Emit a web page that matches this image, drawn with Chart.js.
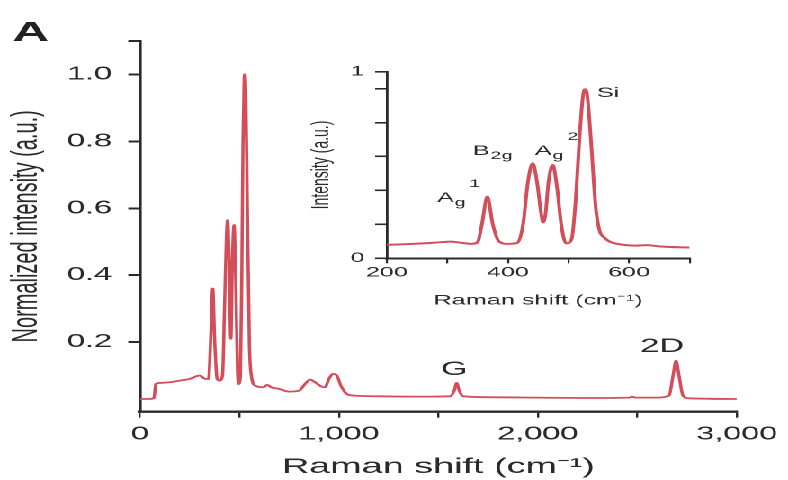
<!DOCTYPE html>
<html>
<head>
<meta charset="utf-8">
<script src="https://cdn.jsdelivr.net/npm/chart.js@4.4.1/dist/chart.umd.min.js"></script>
<style>
  html, body { margin: 0; padding: 0; background: #fff; overflow: hidden; }
  /* the source figure is stretched sideways, so the whole stage is too */
  #stage { position: absolute; left: 0; top: 0; width: 438px; height: 480px; transform: scaleX(1.7991); transform-origin: 0 0; }
  #mainBox { position: absolute; left: 0; top: 0; width: 438px; height: 480px; }
  #insetBox { position: absolute; left: 164px; top: 55px; width: 236px; height: 257px; }
</style>
</head>
<body>
<div id="stage">
  <div id="mainBox"><canvas id="mainChart"></canvas></div>
  <div id="insetBox"><canvas id="insetChart"></canvas></div>
</div>
<script>
// Full spectrum (main panel)
const mainShift = [0, 40, 70, 80, 100, 150, 200, 250, 300, 330, 345, 355, 366, 376, 388, 400, 415, 425, 435, 441, 448, 457, 465, 473, 481, 490, 496, 505, 512, 518, 524, 527, 532, 540, 550, 560, 580, 620, 640, 660, 700, 750, 800, 830, 855, 880, 910, 930, 950, 970, 990, 1010, 1040, 1080, 1200, 1400, 1560, 1580, 1592, 1605, 1625, 1800, 2000, 2300, 2460, 2475, 2490, 2600, 2660, 2680, 2695, 2710, 2730, 2760, 3000];
const mainIntensity = [0.03, 0.03, 0.032, 0.075, 0.078, 0.08, 0.085, 0.09, 0.1, 0.09, 0.09, 0.2, 0.36, 0.2, 0.09, 0.085, 0.1, 0.3, 0.52, 0.565, 0.45, 0.21, 0.45, 0.55, 0.4, 0.12, 0.075, 0.1, 0.4, 0.8, 0.99, 1.0, 0.95, 0.6, 0.2, 0.1, 0.07, 0.065, 0.072, 0.065, 0.06, 0.052, 0.055, 0.075, 0.088, 0.08, 0.068, 0.065, 0.09, 0.105, 0.1, 0.07, 0.045, 0.04, 0.038, 0.037, 0.038, 0.055, 0.078, 0.055, 0.038, 0.035, 0.034, 0.033, 0.034, 0.037, 0.034, 0.034, 0.04, 0.1, 0.145, 0.1, 0.04, 0.032, 0.03];

// Low-wavenumber zoom (inset)
const insetShift = [200, 230, 260, 290, 305, 320, 340, 350, 357, 366, 375, 385, 400, 415, 425, 433, 441, 448, 455, 458, 462, 467, 474, 481, 488, 496, 505, 512, 518, 524, 527, 531, 537, 545, 551, 560, 568, 590, 610, 630, 650, 700];
const insetIntensity = [0.079, 0.083, 0.088, 0.095, 0.098, 0.093, 0.085, 0.095, 0.2, 0.363, 0.2, 0.1, 0.085, 0.09, 0.2, 0.45, 0.56, 0.45, 0.26, 0.212, 0.26, 0.45, 0.55, 0.42, 0.2, 0.088, 0.11, 0.35, 0.7, 0.96, 0.996, 0.96, 0.7, 0.3, 0.167, 0.12, 0.098, 0.08, 0.075, 0.078, 0.07, 0.063];

// Tick positions
const mainYTicks = [0.2, 0.4, 0.6, 0.8, 1.0, 1.1];
const insetYTicks = [0, 0.2, 0.4, 0.6, 0.8, 1.0, 1.1];

const FONT = "'Liberation Sans', Arial, Helvetica, sans-serif";
const INK = '#2a2a2a';
const RED = 'rgb(212, 78, 90)';

function toPoints(xs, ys) {
    return xs.map((x, i) => ({ x: x, y: ys[i] }));
}

// peak labels for the main panel (data coords, centred)
const mainPeakLabels = [
    { text: 'G', x: 1580, y: 0.102 },
    { text: '2D', x: 2625, y: 0.171 }
];

// phonon mode labels for the inset (data coords, left / baseline)
const insetPeakLabels = [
    { text: 'A', sub: 'g', sup: '1', x: 283, y: 0.332 },
    { text: 'B', sub: '2g', x: 342, y: 0.609 },
    { text: 'A', sub: 'g', sup: '2', x: 444.5, y: 0.609 },
    { text: 'Si', x: 547, y: 0.95 }
];

const mainLabelsPlugin = {
    id: 'mainLabels',
    afterDraw(chart) {
        const ctx = chart.ctx;
        const xs = chart.scales.x, ys = chart.scales.y;
        ctx.save();
        ctx.fillStyle = INK;
        ctx.textBaseline = 'alphabetic';
        ctx.textAlign = 'center';
        ctx.font = '19px ' + FONT;
        mainPeakLabels.forEach(l => {
            ctx.fillText(l.text, xs.getPixelForValue(l.x), ys.getPixelForValue(l.y));
        });
        // panel letter
        ctx.textAlign = 'left';
        ctx.font = 'bold 28px ' + FONT;
        ctx.fillStyle = '#222';
        ctx.fillText('A', 7, 41);
        ctx.restore();
    }
};

const insetLabelsPlugin = {
    id: 'insetLabels',
    afterDraw(chart) {
        const ctx = chart.ctx;
        const xs = chart.scales.x, ys = chart.scales.y;
        ctx.save();
        ctx.fillStyle = INK;
        ctx.textBaseline = 'alphabetic';
        ctx.textAlign = 'left';
        insetPeakLabels.forEach(l => {
            let x = xs.getPixelForValue(l.x);
            const y = ys.getPixelForValue(l.y);
            ctx.font = '14px ' + FONT;
            ctx.fillText(l.text, x, y);
            x += ctx.measureText(l.text).width + 0.5;
            ctx.font = '11px ' + FONT;
            if (l.sub) {
                ctx.fillText(l.sub, x, y + 4);
                x += ctx.measureText(l.sub).width + 2;
            }
            if (l.sup) {
                ctx.fillText(l.sup, x, y - 15);
            }
        });
        ctx.restore();
    }
};

new Chart(document.getElementById('mainChart'), {
    type: 'line',
    data: {
        datasets: [{
            data: toPoints(mainShift, mainIntensity),
            borderColor: RED,
            borderWidth: 1.8,
            pointRadius: 0,
            cubicInterpolationMode: 'monotone',
            fill: false
        }]
    },
    options: {
        responsive: true,
        maintainAspectRatio: false,
        animation: false,
        devicePixelRatio: 2,
        layout: { padding: { top: 41, right: 26.7, bottom: 0, left: 0 } },
        plugins: { legend: { display: false }, tooltip: { enabled: false } },
        scales: {
            x: {
                type: 'linear',
                min: 0,
                max: 3000,
                afterFit: s => { s.height = 68.3; },
                border: { color: INK, width: 2.4 },
                grid: { drawOnChartArea: false, drawTicks: true, tickLength: 6, color: INK, lineWidth: 1.2 },
                ticks: {
                    stepSize: 500,
                    autoSkip: false,
                    maxRotation: 0,
                    padding: 6,
                    color: INK,
                    font: { family: FONT, size: 18 },
                    callback: v => (v % 1000 === 0 ? v.toLocaleString('en-US') : '')
                },
                title: {
                    display: true,
                    text: 'Raman shift (cm\u207B\u00B9)',
                    color: INK,
                    font: { family: FONT, size: 21 },
                    padding: { top: 0, bottom: 0 }
                }
            },
            y: {
                type: 'linear',
                min: -0.008,
                max: 1.1,
                afterFit: s => { s.width = 77.8; },
                afterBuildTicks: s => { s.ticks = mainYTicks.map(v => ({ value: v })); },
                border: { color: INK, width: 1.8 },
                grid: { drawOnChartArea: false, drawTicks: true, tickLength: 6.5, color: INK, lineWidth: 2 },
                ticks: {
                    padding: 9,
                    color: INK,
                    font: { family: FONT, size: 18 },
                    callback: v => (v > 1.05 ? '' : v.toFixed(1))
                },
                title: {
                    display: true,
                    text: 'Normalized intensity (a.u.)',
                    color: INK,
                    font: { family: FONT, size: 20 },
                    padding: { top: 3, bottom: 0 }
                }
            }
        }
    },
    plugins: [mainLabelsPlugin]
});

new Chart(document.getElementById('insetChart'), {
    type: 'line',
    data: {
        datasets: [{
            data: toPoints(insetShift, insetIntensity),
            borderColor: RED,
            borderWidth: 2,
            pointRadius: 0,
            cubicInterpolationMode: 'monotone',
            fill: false
        }]
    },
    options: {
        responsive: true,
        maintainAspectRatio: false,
        animation: false,
        devicePixelRatio: 2,
        layout: { padding: { top: 16.7, right: 16.7, bottom: 0, left: 0 } },
        plugins: { legend: { display: false }, tooltip: { enabled: false } },
        scales: {
            x: {
                type: 'linear',
                min: 200,
                max: 700,
                afterFit: s => { s.height = 53.7; },
                border: { color: INK, width: 2 },
                grid: { drawOnChartArea: false, drawTicks: true, tickLength: 5, color: INK, lineWidth: 1.1 },
                ticks: {
                    stepSize: 100,
                    autoSkip: false,
                    maxRotation: 0,
                    padding: 1,
                    color: INK,
                    font: { family: FONT, size: 14 },
                    callback: v => (v === 700 || v % 200 !== 0 ? '' : String(v))
                },
                title: {
                    display: true,
                    text: 'Raman shift (cm\u207B\u00B9)',
                    color: INK,
                    font: { family: FONT, size: 14 },
                    padding: { top: 0, bottom: 3 }
                }
            },
            y: {
                type: 'linear',
                min: 0,
                max: 1.1,
                afterFit: s => { s.width = 51; },
                afterBuildTicks: s => { s.ticks = insetYTicks.map(v => ({ value: v })); },
                border: { color: INK, width: 1.4 },
                grid: { drawOnChartArea: false, drawTicks: true, tickLength: 6.5, color: INK, lineWidth: 1.6 },
                ticks: {
                    padding: 6,
                    color: INK,
                    font: { family: FONT, size: 14 },
                    callback: v => (v === 0 ? '0' : (v > 1.05 ? '1' : ''))
                },
                title: {
                    display: true,
                    text: 'Intensity (a.u.)',
                    color: INK,
                    font: { family: FONT, size: 14 },
                    padding: { top: 6, bottom: 0 }
                }
            }
        }
    },
    plugins: [insetLabelsPlugin]
});
</script>
</body>
</html>
